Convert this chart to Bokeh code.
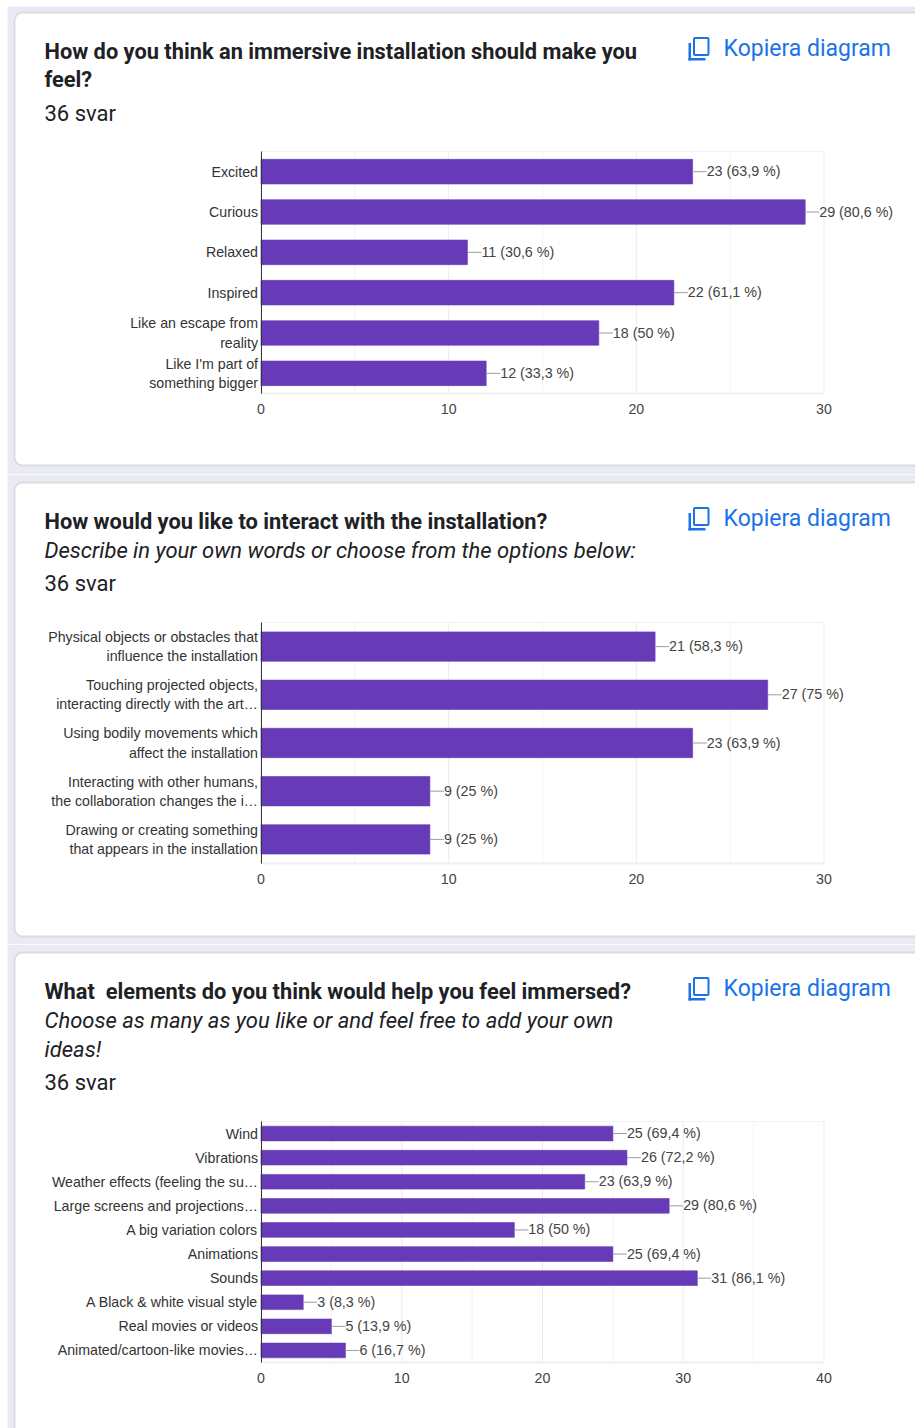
from bokeh.core.properties import value
from bokeh.embed import file_html
from bokeh.layouts import column
from bokeh.models import (BoxAnnotation, ColumnDataSource, FixedTicker,
                          Label, LabelSet, Range1d)
from bokeh.plotting import figure
from bokeh.resources import INLINE

# Question 1
q1_categories = ["Excited", "Curious", "Relaxed", "Inspired",
                 "Like an escape from\nreality", "Like I'm part of\nsomething bigger"]
q1_counts = [23, 29, 11, 22, 18, 12]
q1_shares = ["63,9", "80,6", "30,6", "61,1", "50", "33,3"]

# Question 2
q2_categories = ["Physical objects or obstacles that\ninfluence the installation",
                 "Touching projected objects,\ninteracting directly with the art…",
                 "Using bodily movements which\naffect the installation",
                 "Interacting with other humans,\nthe collaboration changes the i…",
                 "Drawing or creating something\nthat appears in the installation"]
q2_counts = [21, 27, 23, 9, 9]
q2_shares = ["58,3", "75", "63,9", "25", "25"]

# Question 3
q3_categories = ["Wind", "Vibrations", "Weather effects (feeling the su…",
                 "Large screens and projections…", "A big variation colors", "Animations",
                 "Sounds", "A Black & white visual style", "Real movies or videos",
                 "Animated/cartoon-like movies…"]
q3_counts = [25, 26, 23, 29, 18, 25, 31, 3, 5, 6]
q3_shares = ["69,4", "72,2", "63,9", "80,6", "50", "69,4", "86,1", "8,3", "13,9", "16,7"]

WIDTH = 915
PLOT_LEFT = 260.5
PLOT_RIGHT = 823.5
PAGE = "#e9eaf4"
BORDER = "#dadce0"
PURPLE = "#673ab7"
INK = "#202124"
BLUE = "#1a73e8"
AXIS_TEXT = "#444444"
FONT = "Liberation Sans"


def panel(categories, counts, shares, height, card, lines, frame, xmax, ticks, minors):
    n = len(categories)
    rows = list(range(n))
    frame_top, frame_bottom = frame
    x_scale = (PLOT_RIGHT - PLOT_LEFT) / xmax
    y_step = (frame_bottom - frame_top) / n

    # The plot frame spans the whole canvas, so the card and the long value
    # labels are never clipped; both axes sit at fixed locations inside it.
    p = figure(width=WIDTH, height=height, output_backend="svg", toolbar_location=None,
               x_range=Range1d(-PLOT_LEFT / x_scale, (WIDTH - PLOT_LEFT) / x_scale),
               y_range=Range1d((height - frame_top) / y_step - 0.5, -frame_top / y_step - 0.5),
               min_border=0, background_fill_alpha=0, border_fill_color="white",
               outline_line_color=None)

    def box(left, right, top, bottom, **style):
        p.add_layout(BoxAnnotation(left=left, right=right, top=height - top, bottom=height - bottom,
                                   left_units="screen", right_units="screen",
                                   top_units="screen", bottom_units="screen",
                                   level="image", **style))

    def text(x, y, content, size, color=INK, style="normal"):
        p.add_layout(Label(x=x, y=height - y, x_units="screen", y_units="screen", text=content,
                           text_font="Roboto", text_font_size=f"{size}px", text_font_style=style,
                           text_color=color, text_baseline="alphabetic", text_align="left"))

    # page backdrop and rounded card behind the chart
    box(7, WIDTH, card[0] - 6 if card[0] > 10 else 0, height,
        fill_color=PAGE, fill_alpha=1, line_alpha=0)
    box(14, WIDTH + 30, card[0], card[1], fill_color="white", fill_alpha=1,
        line_color=BORDER, line_alpha=1, line_width=2, border_radius=8)

    for x, y, content, size, style in lines:
        text(x, y, content, size, style=style)

    # copy icon and action label
    icon_y = lines[0][1]
    box(693.5, 708, icon_y - 13, icon_y + 4, fill_alpha=0, line_color=BLUE, line_alpha=1,
        line_width=2, border_radius=1)
    box(688, 690.5, icon_y - 8, icon_y + 9.5, fill_color=BLUE, fill_alpha=1, line_alpha=0)
    box(688, 705, icon_y + 7, icon_y + 9.5, fill_color=BLUE, fill_alpha=1, line_alpha=0)
    text(723, icon_y - 3, "Kopiera diagram", 23, color=BLUE)

    # light gridlines and the box around the bars
    p.grid.visible = False
    p.segment(x0=minors, x1=minors, y0=-0.5, y1=n - 0.5, line_color="#f4f4f4", line_width=1)
    p.segment(x0=ticks, x1=ticks, y0=-0.5, y1=n - 0.5, line_color="#ececec", line_width=1)
    p.segment(x0=0, x1=xmax, y0=-0.5, y1=-0.5, line_color="#f2f2f2", line_width=1)
    p.segment(x0=0, x1=xmax, y0=n - 0.5, y1=n - 0.5, line_color="#efefef", line_width=2)

    source = ColumnDataSource(dict(
        row=rows, count=counts,
        label=[f"{c} ({s} %)" for c, s in zip(counts, shares)]))
    p.hbar(y="row", right="count", left=0, height=0.61, source=source,
           fill_color=PURPLE, line_color=PURPLE, line_alpha=0.6)
    p.ray(x="count", y="row", length=14, length_units="screen", angle=0, source=source,
          line_color="#9e9e9e", line_width=1)
    p.add_layout(LabelSet(x="count", y="row", text="label", source=source,
                          x_offset=14, y_offset=0.5, text_baseline="middle", text_align="left",
                          text_font=value(FONT), text_font_size="14.3px",
                          text_color=AXIS_TEXT))

    # value axis, along the foot of the bars
    xaxis = p.xaxis[0]
    xaxis.fixed_location = n - 0.5
    xaxis.bounds = (0, xmax)
    xaxis.ticker = FixedTicker(ticks=ticks, minor_ticks=minors)
    xaxis.axis_line_color = None
    xaxis.major_tick_line_color = None
    xaxis.minor_tick_line_color = None
    xaxis.major_tick_out = 0
    xaxis.major_tick_in = 0
    xaxis.minor_tick_out = 0
    xaxis.major_label_standoff = 10
    xaxis.major_label_text_font = FONT
    xaxis.major_label_text_font_size = "14.2px"
    xaxis.major_label_text_color = AXIS_TEXT

    # category axis at zero
    yaxis = p.yaxis[0]
    yaxis.fixed_location = 0
    yaxis.bounds = (-0.5, n - 0.5)
    yaxis.ticker = FixedTicker(ticks=rows)
    yaxis.major_label_overrides = dict(zip(rows, categories))
    yaxis.axis_line_color = "#333333"
    yaxis.major_tick_line_color = None
    yaxis.minor_tick_line_color = None
    yaxis.major_tick_out = 0
    yaxis.major_tick_in = 0
    yaxis.minor_tick_out = 0
    yaxis.major_label_standoff = 3
    yaxis.major_label_text_font = FONT
    yaxis.major_label_text_font_size = "14.2px"
    yaxis.major_label_text_color = "#333333"
    return p


top = panel(q1_categories, q1_counts, q1_shares, 474, (12, 465),
            [(44, 50.5, "How do you think an immersive installation should make you", 21.8, "bold"),
             (44, 79, "feel?", 21.8, "bold"),
             (44, 112.5, "36 svar", 22, "normal")],
            (151, 393), 30, [0, 10, 20, 30], [5, 15, 25])

middle = panel(q2_categories, q2_counts, q2_shares, 470, (8, 462),
               [(44, 46.5, "How would you like to interact with the installation?", 21.8, "bold"),
                (44, 75.5, "Describe in your own words or choose from the options below:", 22, "italic"),
                (44, 108.5, "36 svar", 22, "normal")],
               (148, 389), 30, [0, 10, 20, 30], [5, 15, 25])

bottom = panel(q3_categories, q3_counts, q3_shares, 484, (8, 560),
               [(44, 46.5, "What\u00a0 elements do you think would help you feel immersed?", 21.8, "bold"),
                (44, 75.5, "Choose as many as you like or and feel free to add your own", 22, "italic"),
                (44, 104.5, "ideas!", 22, "italic"),
                (44, 137.5, "36 svar", 22, "normal")],
               (177, 418), 40, [0, 10, 20, 30, 40], [5, 15, 25, 35])

page = column(top, middle, bottom, spacing=0, margin=0)
open("out.html", "w").write(file_html(page, INLINE))
